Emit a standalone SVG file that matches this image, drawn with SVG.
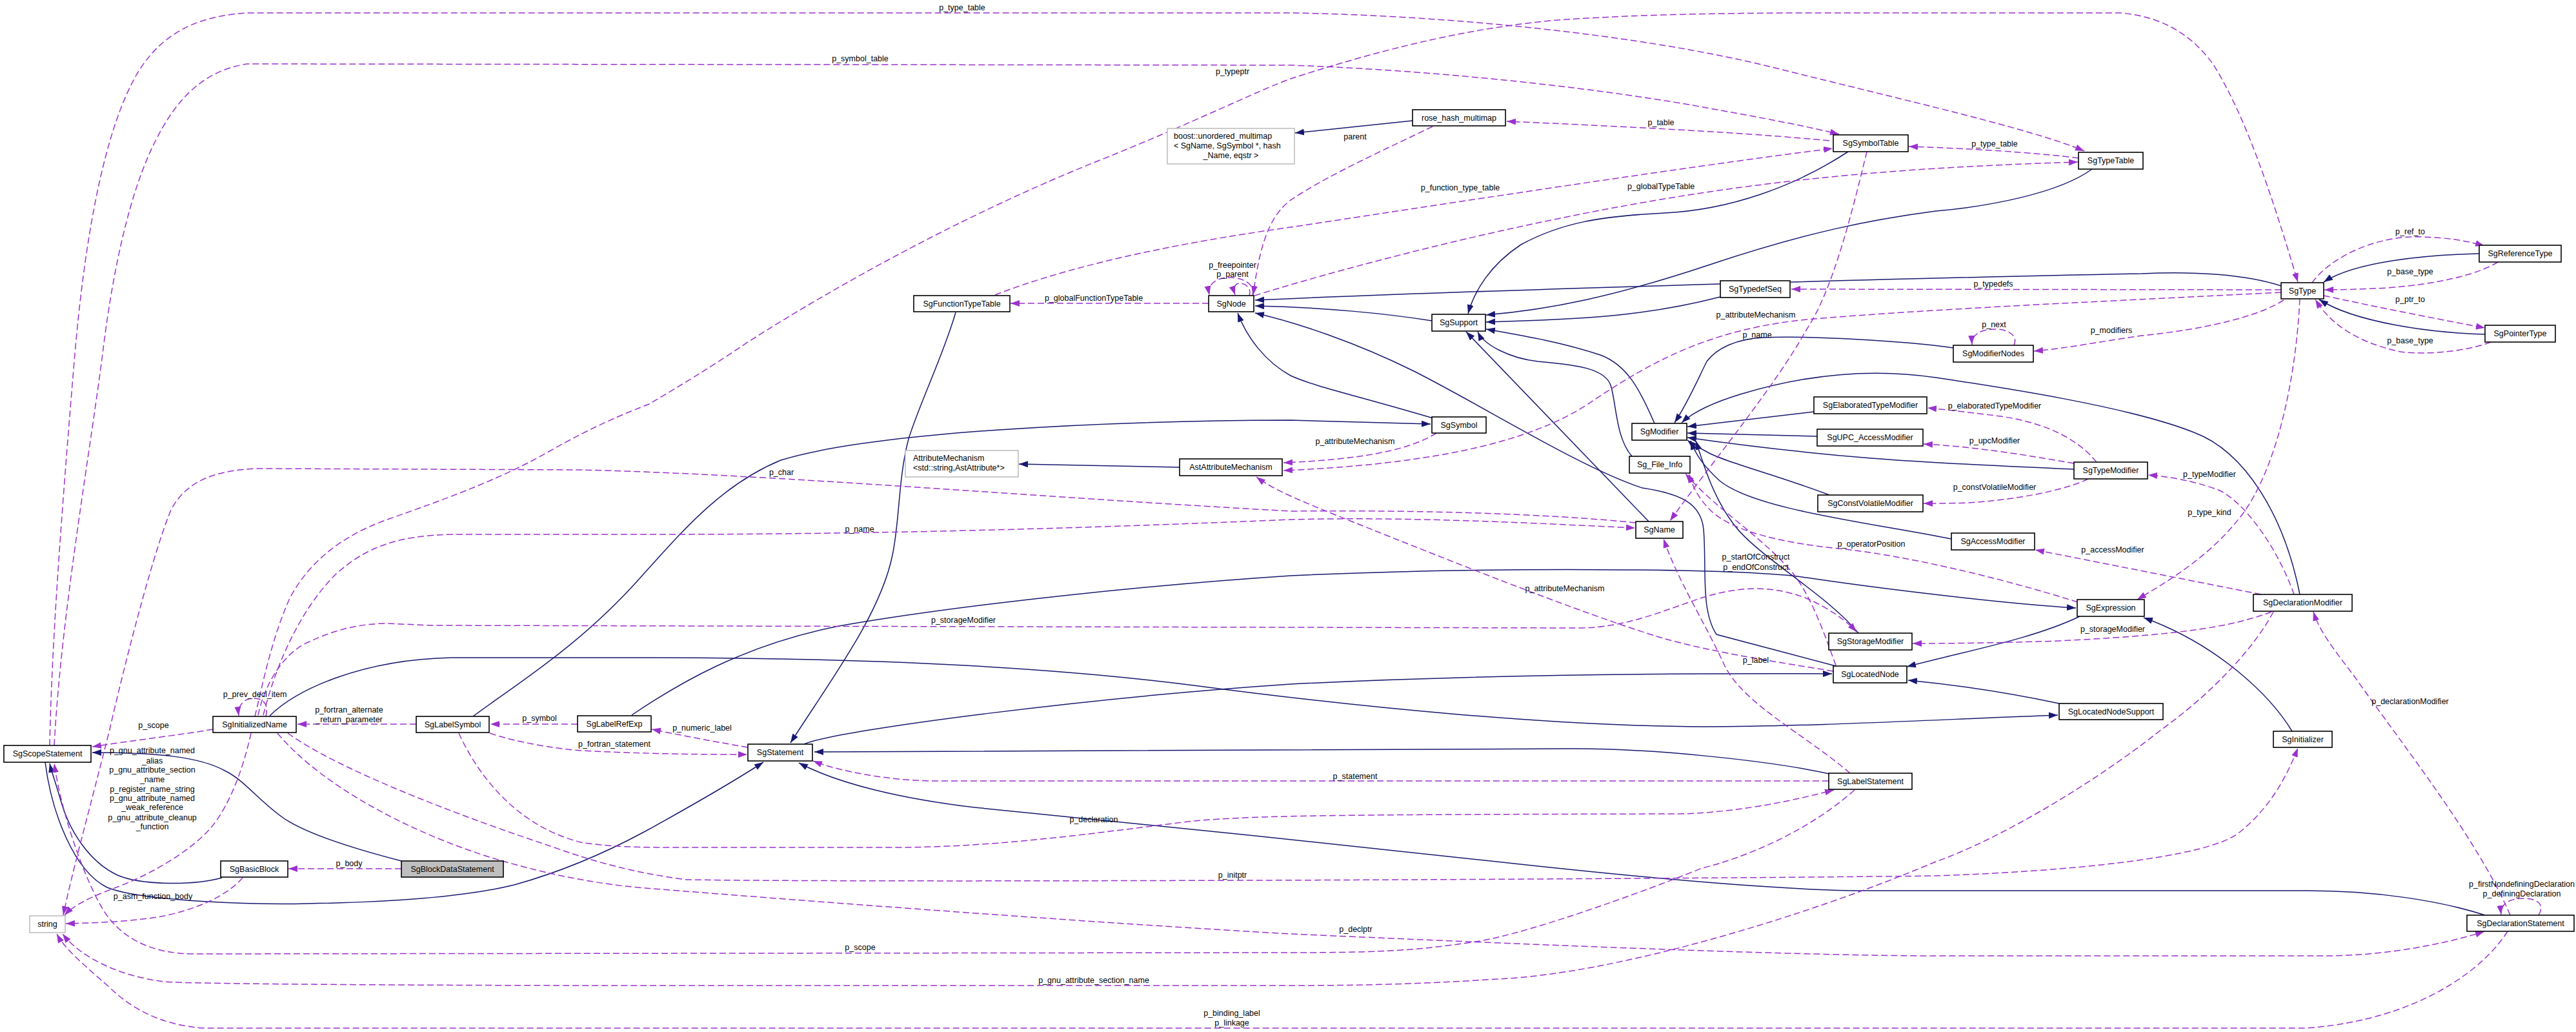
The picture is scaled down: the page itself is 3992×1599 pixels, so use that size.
<svg xmlns="http://www.w3.org/2000/svg" width="3992" height="1599" viewBox="0 0 3992 1599">
<style>
.n rect{fill:#fff;stroke:#000;stroke-width:1.6}
.n.g rect{stroke:#bfbfbf}
.n.f rect{fill:#bfbfbf}
text{font-family:"Liberation Sans",Arial,sans-serif;font-size:12.5px;fill:#000}
.n text{text-anchor:middle}
.n text.l{text-anchor:start}
#edges path{fill:none;stroke-width:1.5}
#edges .i{stroke:#191970;marker-end:url(#ai)}
#edges .u{stroke:#9a32cd;stroke-dasharray:10,5;marker-end:url(#au)}
#edges text{text-anchor:middle}
</style>
<defs>
<marker id="ai" markerUnits="userSpaceOnUse" markerWidth="16" markerHeight="12" refX="14" refY="5" orient="auto"><path d="M0,0L14,5L0,10z" fill="#191970"/></marker>
<marker id="au" markerUnits="userSpaceOnUse" markerWidth="16" markerHeight="12" refX="14" refY="5" orient="auto"><path d="M0,0L14,5L0,10z" fill="#9a32cd"/></marker>
</defs>
<rect width="3992" height="1599" fill="#fff"/>
<g id="edges">
<path class="i" d="M622,1334 C560,1318 480,1295 440,1268 C400,1240 380,1210 350,1195 C310,1172 240,1166 143,1166"/>
<path class="i" d="M344,1360 C300,1372 220,1372 182,1356 C140,1336 108,1290 94,1240 C86,1212 80,1196 77,1183"/>
<path class="i" d="M70,1181 C80,1260 115,1350 166,1375 C220,1397 400,1402 478,1400 C600,1398 720,1390 797,1371 C880,1348 950,1315 1000,1288 C1060,1255 1130,1215 1183,1181"/>
<path class="i" d="M1481,484 C1462,550 1425,625 1408,680 C1392,740 1394,810 1383,860 C1365,950 1290,1050 1225,1151"/>
<path class="i" d="M2835,1199 C2740,1178 2560,1160 2440,1160 L1262,1165"/>
<path class="i" d="M3851,1418 C3780,1395 3680,1380 3574,1380 L2893,1380 C2750,1380 2500,1355 2319,1335 C2100,1310 1700,1270 1510,1251 C1400,1238 1300,1215 1238,1182"/>
<path class="i" d="M1246,1153 C1300,1130 1700,1080 2000,1060 C2300,1045 2600,1043 2839,1044"/>
<path class="i" d="M3223,955 C3150,990 3050,1008 2955,1033"/>
<path class="i" d="M3191,1090 C3120,1075 3040,1062 2957,1054"/>
<path class="i" d="M418,1109 C460,1068 560,1022 700,1019 L1000,1019 C1300,1019 1600,1030 1850,1062 C2100,1095 2400,1125 2640,1126 C2800,1126 3000,1115 3189,1108"/>
<path class="i" d="M2845,1032 L2660,983 C2635,945 2645,880 2640,820 C2636,780 2605,765 2545,756 C2450,725 2300,630 2191,575 C2100,530 2010,500 1945,485"/>
<path class="i" d="M979,1108 C1050,1060 1150,1000 1300,970 C1500,935 1800,905 2000,892 C2300,878 2700,880 2800,895 C2900,910 3100,935 3217,942"/>
<path class="i" d="M3552,1133 C3520,1080 3440,1000 3322,957"/>
<path class="i" d="M733,1110 C800,1060 900,1000 995,892 C1060,820 1120,750 1210,713 C1350,670 1700,652 2000,651 L2217,657"/>
<path class="i" d="M2221,648 C2100,612 2040,600 2000,582 C1960,560 1932,522 1918,485"/>
<path class="i" d="M2219,497 C2150,486 2050,476 1945,474"/>
<path class="i" d="M3535,443 C3480,425 3400,420 3319,424 C3100,428 2400,445 1945,465"/>
<path class="i" d="M3842,393 C3760,395 3650,405 3601,437"/>
<path class="i" d="M3851,518 C3770,516 3650,500 3594,464"/>
<path class="i" d="M2864,235 C2780,290 2680,325 2580,330 C2480,335 2420,345 2357,379 C2310,410 2285,450 2275,486"/>
<path class="i" d="M3242,262 C3190,300 3080,320 3000,327 C2900,340 2800,360 2650,410 C2500,460 2400,480 2303,488"/>
<path class="i" d="M2666,460 C2550,490 2450,495 2303,499"/>
<path class="i" d="M2564,656 C2540,600 2520,565 2480,550 C2420,530 2360,520 2303,510"/>
<path class="i" d="M2529,707 C2505,680 2505,630 2497,600 C2490,570 2440,565 2383,560 C2340,555 2300,535 2290,514"/>
<path class="i" d="M2555,808 L2272,514"/>
<path class="i" d="M3027,539 C2950,528 2800,520 2733,523 C2690,525 2660,540 2645,560 C2630,590 2615,625 2595,655"/>
<path class="i" d="M3564,921 C3540,800 3480,700 3400,670 C3300,630 3100,600 3000,585 C2900,570 2800,580 2700,610 C2650,625 2622,640 2606,655"/>
<path class="i" d="M2811,638 L2615,661"/>
<path class="i" d="M2816,676 L2615,671"/>
<path class="i" d="M3214,727 C3100,722 3000,718 2900,710 C2800,702 2700,690 2615,678"/>
<path class="i" d="M2835,767 C2760,738 2670,715 2645,700 C2630,692 2622,688 2615,682"/>
<path class="i" d="M3024,835 C2900,810 2720,790 2665,745 C2640,722 2628,705 2620,683"/>
<path class="i" d="M2880,981 C2830,920 2720,860 2685,810 C2655,770 2640,720 2628,683"/>
<path class="i" d="M1828,724 L1579,719"/>
<path class="i" d="M2189,187 L2007,206"/>
<path class="u" d="M77,1155 C80,1000 95,800 115,560 C130,380 160,200 215,110 C250,55 300,25 383,20 L2000,20 C2250,24 2550,55 2750,105 C2950,155 3150,200 3230,234"/>
<path class="u" d="M84,1155 C95,950 140,700 160,540 C175,420 200,300 240,220 C270,160 310,110 383,99 L2000,101 C2250,110 2500,140 2650,168 C2750,186 2810,198 2850,208"/>
<path class="u" d="M395,1110 C405,1070 420,990 450,925 C480,870 530,830 600,805 C700,770 780,740 850,700 C920,660 970,640 1006,626 C1050,600 1100,570 1159,530 C1300,440 1500,330 1700,250 C1850,190 1950,140 2000,122 C2100,90 2250,45 2415,31 C2600,18 2800,20 3000,20 L3287,20 C3340,25 3390,45 3430,100 C3480,180 3520,300 3561,437"/>
<path class="u" d="M2220,196 C2150,230 2060,270 2000,310 C1960,340 1950,400 1942,457"/>
<path class="u" d="M2835,218 C2700,205 2500,195 2335,188"/>
<path class="u" d="M3221,245 C3150,236 3050,230 2958,227"/>
<path class="u" d="M1542,457 C1650,415 1800,380 2000,352 C2200,322 2600,260 2840,230"/>
<path class="u" d="M1944,458 C2100,410 2400,330 2700,290 C2850,270 3000,258 3220,251"/>
<path class="u" d="M1873,470 L1566,470"/>
<path class="u" d="M1941,458 C1946,440 1926,430 1905,430 C1884,430 1871,441 1874,457"/>
<path class="u" d="M1936,458 C1940,446 1930,439 1921,439 C1913,439 1911,448 1914,457"/>
<path class="u" d="M3535,449 L2776,448"/>
<path class="u" d="M3535,453 C3300,465 3000,478 2800,495 C2650,510 2560,560 2470,620 C2370,690 2200,720 1989,729"/>
<path class="u" d="M2226,671 C2180,700 2100,712 1989,717"/>
<path class="u" d="M2841,1040 C2750,1025 2650,1010 2574,988 C2450,950 2250,870 2100,810 C2020,778 1975,760 1947,739"/>
<path class="u" d="M2867,1198 C2800,1140 2700,1090 2672,1030 C2645,970 2600,900 2578,835"/>
<path class="u" d="M408,1108 C430,1020 470,940 520,890 C570,845 620,830 700,828 L1000,828 C1300,828 1600,822 2000,805 C2200,800 2400,812 2534,818"/>
<path class="u" d="M2535,810 C2400,796 2200,790 2000,792 C1600,770 1200,735 900,728 L400,726 C340,728 290,742 265,790 C240,850 200,1000 170,1130 C140,1250 112,1350 98,1418"/>
<path class="u" d="M330,1130 C270,1140 200,1148 143,1157"/>
<path class="u" d="M389,1136 C375,1200 350,1260 320,1290 C280,1330 220,1360 180,1375 C140,1390 115,1402 100,1418"/>
<path class="u" d="M412,1110 C417,1090 407,1082 393,1082 C378,1082 368,1093 370,1109"/>
<path class="u" d="M645,1122 L461,1122"/>
<path class="u" d="M895,1122 L760,1122"/>
<path class="u" d="M759,1136 C800,1150 860,1160 900,1163 C1000,1168 1080,1169 1158,1169"/>
<path class="u" d="M1159,1158 C1100,1148 1050,1138 1010,1130"/>
<path class="u" d="M711,1136 C740,1200 800,1280 900,1305 C950,1313 1000,1313 1050,1313 L1383,1313 C1550,1313 1700,1290 1850,1272 C1950,1263 2100,1262 2606,1261 C2700,1258 2780,1240 2842,1224"/>
<path class="u" d="M2834,1210 L1450,1210 C1380,1210 1300,1195 1260,1179"/>
<path class="u" d="M446,1136 C520,1190 700,1260 850,1310 C920,1335 980,1352 1064,1363 C1400,1368 2600,1362 3000,1357 C3200,1350 3420,1330 3470,1290 C3520,1250 3545,1200 3561,1159"/>
<path class="u" d="M430,1136 C500,1220 650,1300 800,1340 C880,1362 950,1372 1000,1376 C1300,1400 1700,1430 2000,1447 C2400,1465 2800,1481 3000,1481 L3606,1481 C3700,1481 3800,1460 3850,1443"/>
<path class="u" d="M2874,1224 C2800,1290 2700,1330 2638,1345 C2500,1400 2350,1450 2287,1459 C2200,1472 2150,1476 2000,1476 L300,1478 C230,1478 185,1450 160,1410 C130,1360 95,1260 84,1183"/>
<path class="u" d="M3523,948 C3490,1010 3420,1080 3350,1130 C3250,1210 3100,1300 3000,1335 C2800,1420 2500,1510 2319,1517 C2200,1525 2100,1527 2000,1527 L1000,1527 C700,1527 300,1525 255,1521 C200,1515 130,1490 97,1447"/>
<path class="u" d="M3886,1443 C3850,1500 3750,1580 3574,1593 L319,1593 C250,1590 200,1560 170,1530 C130,1495 100,1470 88,1447"/>
<path class="u" d="M3934,1418 C3945,1400 3930,1392 3910,1392 C3890,1392 3874,1400 3876,1417"/>
<path class="u" d="M3890,1418 C3840,1300 3720,1150 3650,1050 C3620,1010 3595,980 3585,948"/>
<path class="u" d="M3555,921 C3530,850 3480,780 3440,760 C3400,745 3360,738 3329,736"/>
<path class="u" d="M3504,921 L3154,852"/>
<path class="u" d="M3520,948 C3450,975 3350,985 3191,993 C3100,996 3030,997 2964,997"/>
<path class="u" d="M400,1108 C410,1060 440,1010 480,994 C520,975 560,966 600,966 L670,969 L2446,973 C2520,973 2580,945 2638,926 C2690,910 2740,905 2797,926 C2830,940 2860,960 2877,979"/>
<path class="u" d="M2845,1031 C2830,990 2810,930 2780,890 C2730,830 2660,790 2612,734"/>
<path class="u" d="M3220,933 C3100,895 2950,860 2850,850 C2750,840 2680,820 2650,790 C2630,770 2622,750 2617,734"/>
<path class="u" d="M3564,463 C3560,550 3540,700 3480,790 C3430,860 3360,900 3312,929"/>
<path class="u" d="M3539,465 C3500,490 3420,510 3319,520 C3250,530 3200,540 3152,544"/>
<path class="u" d="M3121,535 C3128,520 3112,510 3092,510 C3070,510 3055,518 3056,534"/>
<path class="u" d="M3583,438 C3610,400 3680,365 3750,367 C3790,368 3820,372 3850,381"/>
<path class="u" d="M3871,406 C3840,425 3780,440 3700,446 C3660,448 3630,449 3602,449"/>
<path class="u" d="M3601,458 C3680,475 3780,495 3851,508"/>
<path class="u" d="M3860,530 C3820,545 3760,550 3720,545 C3650,530 3610,500 3588,464"/>
<path class="u" d="M3249,716 C3220,680 3170,655 3100,645 C3060,640 3020,635 2987,632"/>
<path class="u" d="M3214,718 C3140,705 3060,692 2981,688"/>
<path class="u" d="M3236,742 C3200,760 3120,775 3050,779 C3020,780 3000,780 2981,780"/>
<path class="u" d="M2893,235 C2870,330 2840,450 2800,510 C2750,600 2650,720 2588,807"/>
<path class="u" d="M376,1360 C350,1390 300,1410 250,1420 C200,1428 150,1430 102,1431"/>
<path class="u" d="M622,1346 L447,1346"/>
<text x="1491" y="16">p_type_table</text>
<text x="1333" y="95">p_symbol_table</text>
<text x="1910" y="115">p_typeptr</text>
<text x="1910" y="415">p_freepointer</text>
<text x="1910" y="429">p_parent</text>
<text x="1695" y="466">p_globalFunctionTypeTable</text>
<text x="2100" y="216">parent</text>
<text x="2574" y="194">p_table</text>
<text x="2263" y="295">p_function_type_table</text>
<text x="2574" y="293">p_globalTypeTable</text>
<text x="2721" y="492">p_attributeMechanism</text>
<text x="2723" y="523">p_name</text>
<text x="3091" y="227">p_type_table</text>
<text x="3735" y="363">p_ref_to</text>
<text x="3735" y="425">p_base_type</text>
<text x="3735" y="468">p_ptr_to</text>
<text x="3735" y="532">p_base_type</text>
<text x="3089" y="444">p_typedefs</text>
<text x="3090" y="507">p_next</text>
<text x="3272" y="516">p_modifiers</text>
<text x="3091" y="633">p_elaboratedTypeModifier</text>
<text x="3091" y="687">p_upcModifier</text>
<text x="3424" y="739">p_typeModifier</text>
<text x="3091" y="759">p_constVolatileModifier</text>
<text x="3424" y="798">p_type_kind</text>
<text x="3274" y="856">p_accessModifier</text>
<text x="3274" y="979">p_storageModifier</text>
<text x="2100" y="688">p_attributeMechanism</text>
<text x="2900" y="847">p_operatorPosition</text>
<text x="2721" y="867">p_startOfConstruct</text>
<text x="2721" y="883">p_endOfConstruct</text>
<text x="2425" y="916">p_attributeMechanism</text>
<text x="2721" y="1027">p_label</text>
<text x="1211" y="736">p_char</text>
<text x="1332" y="824">p_name</text>
<text x="1493" y="965">p_storageModifier</text>
<text x="395" y="1080">p_prev_decl_item</text>
<text x="238" y="1128">p_scope</text>
<text x="541" y="1104">p_fortran_alternate</text>
<text x="541" y="1119">_return_parameter</text>
<text x="836" y="1117">p_symbol</text>
<text x="952" y="1157">p_fortran_statement</text>
<text x="236" y="1167">p_gnu_attribute_named</text>
<text x="236" y="1183">_alias</text>
<text x="236" y="1197">p_gnu_attribute_section</text>
<text x="236" y="1212">_name</text>
<text x="236" y="1227">p_register_name_string</text>
<text x="236" y="1241">p_gnu_attribute_named</text>
<text x="236" y="1255">_weak_reference</text>
<text x="236" y="1271">p_gnu_attribute_cleanup</text>
<text x="236" y="1285">_function</text>
<text x="541" y="1342">p_body</text>
<text x="237" y="1393">p_asm_function_body</text>
<text x="1088" y="1132">p_numeric_label</text>
<text x="1695" y="1274">p_declaration</text>
<text x="1910" y="1360">p_initptr</text>
<text x="1333" y="1472">p_scope</text>
<text x="1695" y="1523">p_gnu_attribute_section_name</text>
<text x="1909" y="1574">p_binding_label</text>
<text x="1909" y="1589">p_linkage</text>
<text x="2100" y="1207">p_statement</text>
<text x="2101" y="1444">p_declptr</text>
<text x="3735" y="1091">p_declarationModifier</text>
<text x="3908" y="1374">p_firstNondefiningDeclaration</text>
<text x="3908" y="1389">p_definingDeclaration</text>
</g>
<g id="SgScopeStatement" class="n"><rect x="6" y="1155" width="135" height="26"/><text x="73.5" y="1172">SgScopeStatement</text></g>
<g id="string" class="n g"><rect x="46" y="1419" width="55" height="26"/><text x="73.5" y="1436">string</text></g>
<g id="SgInitializedName" class="n"><rect x="330" y="1110" width="129" height="25"/><text x="394.5" y="1127">SgInitializedName</text></g>
<g id="SgLabelSymbol" class="n"><rect x="645" y="1110" width="113" height="25"/><text x="701.5" y="1127">SgLabelSymbol</text></g>
<g id="SgLabelRefExp" class="n"><rect x="895" y="1109" width="114" height="25"/><text x="952" y="1126">SgLabelRefExp</text></g>
<g id="SgBasicBlock" class="n"><rect x="342" y="1334" width="104" height="25"/><text x="394" y="1351">SgBasicBlock</text></g>
<g id="SgBlockDataStatement" class="n f"><rect x="622" y="1334" width="158" height="25"/><text x="701" y="1351">SgBlockDataStatement</text></g>
<g id="SgStatement" class="n"><rect x="1159" y="1153" width="100" height="26"/><text x="1209" y="1170">SgStatement</text></g>
<g id="SgFunctionTypeTable" class="n"><rect x="1416" y="458" width="149" height="25"/><text x="1490.5" y="475">SgFunctionTypeTable</text></g>
<g id="SgNode" class="n"><rect x="1873" y="458" width="70" height="25"/><text x="1908" y="475">SgNode</text></g>
<g id="boost_unordered_multimap" class="n g"><rect x="1809" y="199" width="197" height="55"/><text class="l" x="1819" y="215">boost::unordered_multimap</text><text class="l" x="1819" y="230">&lt; SgName, SgSymbol *, hash</text><text x="1907.5" y="245">_Name, eqstr &gt;</text></g>
<g id="AttributeMechanism" class="n g"><rect x="1403" y="698" width="175" height="41"/><text class="l" x="1415" y="714">AttributeMechanism</text><text class="l" x="1415" y="729">&lt;std::string,AstAttribute*&gt;</text></g>
<g id="AstAttributeMechanism" class="n"><rect x="1828" y="711" width="159" height="26"/><text x="1907.5" y="728">AstAttributeMechanism</text></g>
<g id="rose_hash_multimap" class="n"><rect x="2189" y="170" width="144" height="25"/><text x="2261" y="187">rose_hash_multimap</text></g>
<g id="SgSymbolTable" class="n"><rect x="2841" y="209" width="116" height="26"/><text x="2899" y="226">SgSymbolTable</text></g>
<g id="SgTypeTable" class="n"><rect x="3221" y="236" width="100" height="26"/><text x="3271" y="253">SgTypeTable</text></g>
<g id="SgSupport" class="n"><rect x="2219" y="487" width="83" height="26"/><text x="2260.5" y="504">SgSupport</text></g>
<g id="SgTypedefSeq" class="n"><rect x="2666" y="435" width="108" height="26"/><text x="2720" y="452">SgTypedefSeq</text></g>
<g id="SgSymbol" class="n"><rect x="2219" y="646" width="84" height="25"/><text x="2261" y="663">SgSymbol</text></g>
<g id="SgModifier" class="n"><rect x="2529" y="656" width="85" height="26"/><text x="2571.5" y="673">SgModifier</text></g>
<g id="Sg_File_Info" class="n"><rect x="2525" y="707" width="94" height="26"/><text x="2572" y="724">Sg_File_Info</text></g>
<g id="SgName" class="n"><rect x="2535" y="808" width="73" height="26"/><text x="2571.5" y="825">SgName</text></g>
<g id="SgElaboratedTypeModifier" class="n"><rect x="2811" y="615" width="175" height="26"/><text x="2898.5" y="632">SgElaboratedTypeModifier</text></g>
<g id="SgUPC_AccessModifier" class="n"><rect x="2816" y="665" width="164" height="26"/><text x="2898" y="682">SgUPC_AccessModifier</text></g>
<g id="SgConstVolatileModifier" class="n"><rect x="2817" y="767" width="163" height="26"/><text x="2898.5" y="784">SgConstVolatileModifier</text></g>
<g id="SgStorageModifier" class="n"><rect x="2834" y="981" width="129" height="26"/><text x="2898.5" y="998">SgStorageModifier</text></g>
<g id="SgLocatedNode" class="n"><rect x="2841" y="1032" width="114" height="26"/><text x="2898" y="1049">SgLocatedNode</text></g>
<g id="SgLabelStatement" class="n"><rect x="2834" y="1198" width="129" height="25"/><text x="2898.5" y="1215">SgLabelStatement</text></g>
<g id="SgType" class="n"><rect x="3535" y="438" width="66" height="25"/><text x="3568" y="455">SgType</text></g>
<g id="SgReferenceType" class="n"><rect x="3842" y="380" width="127" height="26"/><text x="3905.5" y="397">SgReferenceType</text></g>
<g id="SgPointerType" class="n"><rect x="3851" y="504" width="109" height="26"/><text x="3905.5" y="521">SgPointerType</text></g>
<g id="SgModifierNodes" class="n"><rect x="3027" y="535" width="124" height="26"/><text x="3089" y="552">SgModifierNodes</text></g>
<g id="SgTypeModifier" class="n"><rect x="3214" y="716" width="114" height="26"/><text x="3271" y="733">SgTypeModifier</text></g>
<g id="SgAccessModifier" class="n"><rect x="3024" y="826" width="129" height="26"/><text x="3088.5" y="843">SgAccessModifier</text></g>
<g id="SgExpression" class="n"><rect x="3219" y="929" width="104" height="26"/><text x="3271" y="946">SgExpression</text></g>
<g id="SgDeclarationModifier" class="n"><rect x="3492" y="921" width="153" height="26"/><text x="3568.5" y="938">SgDeclarationModifier</text></g>
<g id="SgLocatedNodeSupport" class="n"><rect x="3191" y="1090" width="161" height="25"/><text x="3271.5" y="1107">SgLocatedNodeSupport</text></g>
<g id="SgInitializer" class="n"><rect x="3523" y="1133" width="91" height="25"/><text x="3568.5" y="1150">SgInitializer</text></g>
<g id="SgDeclarationStatement" class="n"><rect x="3823" y="1418" width="166" height="25"/><text x="3906" y="1435">SgDeclarationStatement</text></g>
</svg>
